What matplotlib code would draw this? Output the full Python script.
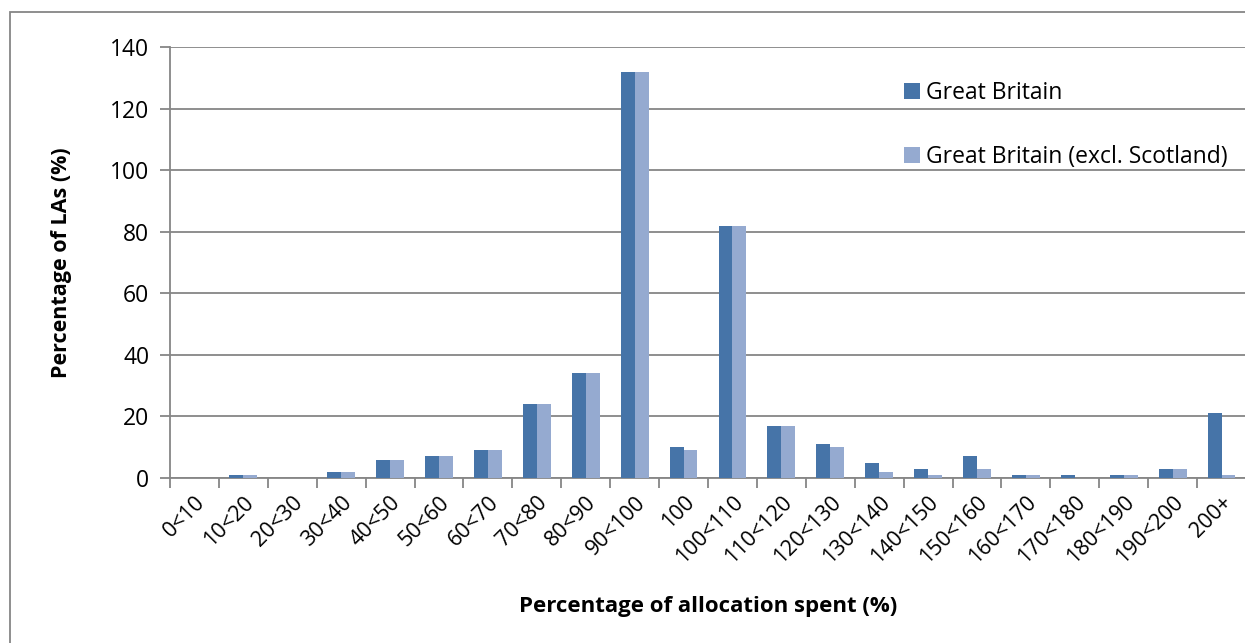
import matplotlib
matplotlib.use("Agg")
import matplotlib.pyplot as plt
import numpy as np
from matplotlib.patches import Rectangle

categories = ["0<10", "10<20", "20<30", "30<40", "40<50", "50<60", "60<70",
              "70<80", "80<90", "90<100", "100", "100<110", "110<120",
              "120<130", "130<140", "140<150", "150<160", "160<170",
              "170<180", "180<190", "190<200", "200+"]
great_britain = [0, 1, 0, 2, 6, 7, 9, 24, 34, 132, 10, 82, 17, 11, 5, 3, 7,
                 1, 1, 1, 3, 21]
gb_excl_scotland = [0, 1, 0, 2, 6, 7, 9, 24, 34, 132, 9, 82, 17, 10, 2, 1, 3,
                    1, 0, 1, 3, 1]

plt.rcParams['font.family'] = ['Open Sans', 'DejaVu Sans']

W, H = 1245, 643
fig = plt.figure(figsize=(W / 100, H / 100), dpi=100)
ax = fig.add_axes([170 / W, 1 - 478 / H, 1076 / W, 431 / H])

grey = "#868686"
x = np.arange(len(categories))
bw = 0.285
ax.bar(x - bw / 2, great_britain, bw, color="#4674A8", label="Great Britain",
       zorder=3)
ax.bar(x + bw / 2, gb_excl_scotland, bw, color="#95AAD0",
       label="Great Britain (excl. Scotland)", zorder=3)

ax.set_xlim(-0.5, len(categories) - 0.5)
ax.set_ylim(0, 140)
ax.set_yticks(range(0, 141, 20))
ax.yaxis.grid(True, color=grey, linewidth=1.3, zorder=0)
ax.set_xticks(np.arange(len(categories) + 1) - 0.5, minor=False)
ax.set_xticklabels([])
ax.set_xticks(x, minor=True)
ax.set_xticklabels(categories, minor=True, rotation=45, ha="right",
                   rotation_mode="anchor", fontsize=15.5)
ax.tick_params(axis="x", which="minor", length=0, pad=10)
ax.tick_params(axis="x", which="major", length=7, color=grey, width=1.3)
ax.tick_params(axis="y", length=7, color=grey, width=1.3, labelsize=16.5,
               pad=8)

for s in ["top", "right"]:
    ax.spines[s].set_visible(False)
for s in ["left", "bottom"]:
    ax.spines[s].set_color(grey)
    ax.spines[s].set_linewidth(1.3)

ax.set_ylabel("Percentage of LAs (%)", fontsize=15.5, fontweight="bold",
              labelpad=27)
ax.set_xlabel("Percentage of allocation spent (%)", fontsize=16,
              fontweight="bold", labelpad=20)

ax.legend(loc="upper left", bbox_to_anchor=(0.663, 0.97), frameon=False,
          fontsize=16.5, labelspacing=1.75, handlelength=0.7, handleheight=0.7,
          handletextpad=0.25)

fig.patches.append(Rectangle((10 / W, -0.1), 1.2, 1.1 - 12 / H,
                             transform=fig.transFigure, fill=False,
                             edgecolor=grey, linewidth=1.3))

fig.savefig("out.png", dpi=100)
